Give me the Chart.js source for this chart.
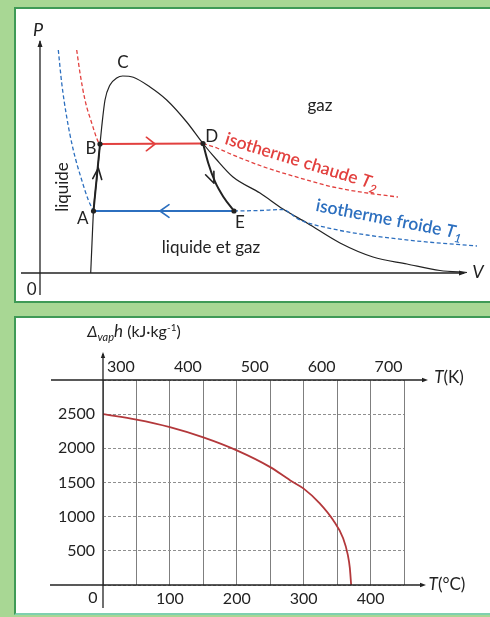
<!DOCTYPE html>
<html><head><meta charset="utf-8">
<script src="https://cdn.jsdelivr.net/npm/chart.js@4/dist/chart.umd.min.js"></script>
<style>
html,body{margin:0;padding:0;}
body{width:490px;height:617px;background:#a8d794;position:relative;overflow:hidden;font-family:Lato,sans-serif;}
.panel{position:absolute;background:#fff;border:2px solid #3f9a56;border-right:none;box-sizing:border-box;}
#p1{left:14px;top:7px;width:480px;height:296px;}
#p2{left:14px;top:316px;width:480px;height:299px;border-bottom-color:#7fd0b0;}
canvas{position:absolute;left:0;}
#c1{top:0;width:490px;height:300px;}
#c2{top:300px;width:490px;height:317px;}
</style></head><body>
<div class="panel" id="p1"></div><div class="panel" id="p2"></div>
<canvas id="c1" width="490" height="300"></canvas>
<canvas id="c2" width="490" height="317"></canvas>
<script>
// ===== Top diagram (Clapeyron P-V), arbitrary units =====
const DOME_V = [5.07, 5.2, 5.35, 5.7, 6.0, 6.17, 6.5, 7.0, 7.67, 8.27, 9.33, 11.0, 12.67, 14.67, 16.3, 17.6, 19.3, 22.0, 24.3, 26.7, 30.0, 33.3, 36.7, 40.0, 42.7];
const DOME_P = [0, 3.0, 6.2, 9.6, 12.9, 14.6, 17.3, 18.8, 19.5, 19.7, 19.57, 18.6, 17.3, 15.1, 12.95, 11.4, 9.6, 8.0, 6.4, 5.0, 3.0, 1.6, 0.9, 0.25, 0.05];
const HOT_LEFT_V = [3.67, 4.0, 4.5, 5.17, 5.83, 6.0];
const HOT_LEFT_P = [22.3, 20.0, 17.3, 15.0, 13.1, 12.9];
const HOT_RIGHT_V = [16.3, 17.7, 19.3, 22.7, 26.0, 29.3, 32.7, 35.8];
const HOT_RIGHT_P = [12.95, 12.5, 11.8, 10.5, 9.5, 8.6, 8.0, 7.6];
const COLD_LEFT_V = [1.83, 2.17, 2.67, 3.33, 4.17, 4.83, 5.2, 5.35];
const COLD_LEFT_P = [22.3, 19.0, 15.6, 12.3, 9.3, 7.3, 6.5, 6.2];
const COLD_RIGHT_V = [19.4, 22.0, 24.2, 26.0, 29.3, 32.7, 37.7, 43.7];
const COLD_RIGHT_P = [6.2, 6.25, 6.35, 5.3, 4.4, 3.8, 3.2, 2.7];
const PATH_AB_V = [5.35, 6.0];
const PATH_AB_P = [6.2, 12.9];
const PATH_BD_V = [6.0, 16.3];
const PATH_BD_P = [12.9, 12.95];
const PATH_DE_V = [16.3, 16.83, 17.5, 18.33, 19.4];
const PATH_DE_P = [12.95, 10.97, 9.13, 7.63, 6.2];
const PATH_EA_V = [19.4, 5.35];
const PATH_EA_P = [6.2, 6.2];
const STATE_NAMES = ['A', 'B', 'D', 'E'];
const STATE_V = [5.35, 6.0, 16.3, 19.4];
const STATE_P = [6.2, 12.9, 12.95, 6.2];

// ===== Bottom chart: enthalpy of vaporisation of water =====
const T_CELSIUS = [0, 50, 100, 150, 200, 250, 280, 300, 324, 344, 359, 366, 369, 371];
const DVAP_H = [2500, 2420, 2310, 2160, 1970, 1725, 1530, 1410, 1195, 950, 685, 440, 250, 0];
const Y_TICKS = [500, 1000, 1500, 2000, 2500];
const C_TICKS = [100, 200, 300, 400];
const K_TICKS = [300, 400, 500, 600, 700];

const zip = (xs, ys) => xs.map((x, i) => ({x, y: ys[i]}));
const INK = '#222';
const RED = '#e2403e';
const BLUE = '#2c6fbf';
const FONT = 'Lato, "Open Sans", sans-serif';

function arrowHead(ctx, x, y, ang, len, half) {
  ctx.save();
  ctx.translate(x, y); ctx.rotate(ang);
  ctx.beginPath();
  ctx.moveTo(0, 0); ctx.lineTo(-len, -half); ctx.lineTo(-len, half); ctx.closePath();
  ctx.fill();
  ctx.restore();
}
function chevron(ctx, x, y, ang, len, halfDeg, color, w) {
  const a = halfDeg * Math.PI / 180;
  ctx.save();
  ctx.strokeStyle = color; ctx.lineWidth = w; ctx.lineCap = 'round'; ctx.lineJoin = 'round';
  ctx.translate(x, y); ctx.rotate(ang);
  ctx.beginPath();
  ctx.moveTo(-len * Math.cos(a), -len * Math.sin(a));
  ctx.lineTo(0, 0);
  ctx.lineTo(-len * Math.cos(a), len * Math.sin(a));
  ctx.stroke();
  ctx.restore();
}
// rich text: parts = [{t, f, dy}] drawn left to right, centred on (x,y)
function rich(ctx, x, y, parts, color, ang) {
  ctx.save();
  ctx.fillStyle = color;
  ctx.textBaseline = 'alphabetic';
  ctx.textAlign = 'left';
  let w = 0;
  parts.forEach(p => { ctx.font = p.f; w += ctx.measureText(p.t).width; });
  ctx.translate(x, y);
  if (ang) ctx.rotate(ang);
  let cx = -w / 2;
  parts.forEach(p => { ctx.font = p.f; ctx.fillText(p.t, cx, p.dy || 0); cx += ctx.measureText(p.t).width; });
  ctx.restore();
}

// ---------- top chart ----------
const topPlugin = {
  id: 'topDeco',
  afterDatasetsDraw(chart) {
    const ctx = chart.ctx, xs = chart.scales.x, ys = chart.scales.y;
    const X = v => xs.getPixelForValue(v), Y = p => ys.getPixelForValue(p);
    ctx.save();
    ctx.strokeStyle = INK; ctx.fillStyle = INK; ctx.lineWidth = 1.3;
    // P axis
    ctx.beginPath(); ctx.moveTo(X(0), Y(-2.2)); ctx.lineTo(X(0), Y(23.2)); ctx.stroke();
    arrowHead(ctx, X(0), Y(23.3), -Math.PI / 2, 7, 2.5);
    // V axis
    ctx.beginPath(); ctx.moveTo(X(-1.9), Y(0)); ctx.lineTo(X(42.4), Y(0)); ctx.stroke();
    arrowHead(ctx, X(42.6), Y(0), 0, 7, 2.5);
    // path arrows
    const dirAng = (v0, p0, v1, p1) => Math.atan2(Y(p1) - Y(p0), X(v1) - X(v0));
    chevron(ctx, X(11.5), Y(12.9), 0, 11, 38, RED, 1.6);
    chevron(ctx, X(12.0), Y(6.2), Math.PI, 11, 35, BLUE, 1.6);
    chevron(ctx, X(5.83), Y(10.5), dirAng(5.35, 6.2, 6.0, 12.9), 12, 22, INK, 1.6);
    chevron(ctx, X(17.4), Y(8.97), dirAng(16.83, 10.97, 17.9, 8.4), 12, 22, INK, 1.6);
    // text labels
    ctx.textAlign = 'center'; ctx.textBaseline = 'middle';
    ctx.fillStyle = INK;
    ctx.font = 'italic 18px ' + FONT; ctx.fillText('P', X(-0.2), Y(24.3));
    ctx.fillText('V', X(43.8), Y(0.1));
    ctx.font = '17px ' + FONT;
    ctx.fillText('0', X(-0.83), Y(-1.7));
    ctx.fillText('C', X(8.3), Y(21.0));
    ctx.fillText('B', X(5.1), Y(12.4));
    ctx.fillText('A', X(4.27), Y(5.45));
    ctx.fillText('D', X(17.17), Y(13.63));
    ctx.fillText('E', X(20.0), Y(5.0));
    ctx.fillText('gaz', X(28.0), Y(16.7));
    ctx.fillText('liquide et gaz', X(17.1), Y(2.5));
    ctx.save(); ctx.translate(X(2.3), Y(8.6)); ctx.rotate(-Math.PI / 2); ctx.fillText('liquide', 0, 0); ctx.restore();
    rich(ctx, X(26.0), Y(10.6), [
      {t: 'isotherme chaude ', f: '600 17.5px ' + FONT},
      {t: 'T', f: 'italic 600 17.5px ' + FONT},
      {t: '2', f: 'italic 600 12px ' + FONT, dy: 4}], RED, 17 * Math.PI / 180);
    rich(ctx, X(34.8), Y(4.8), [
      {t: 'isotherme froide ', f: '600 17.5px ' + FONT},
      {t: 'T', f: 'italic 600 17.5px ' + FONT},
      {t: '1', f: 'italic 600 12px ' + FONT, dy: 4}], BLUE, 11 * Math.PI / 180);
    ctx.restore();
  }
};
const dashLine = (data, color) => ({data, showLine: true, borderColor: color, borderWidth: 1.3, borderDash: [4, 2.5], pointRadius: 0, cubicInterpolationMode: 'monotone', fill: false});
const solidLine = (data, color, w) => ({data, showLine: true, borderColor: color, borderWidth: w, pointRadius: 0, cubicInterpolationMode: 'monotone', fill: false});

new Chart(document.getElementById('c1'), {
  type: 'scatter',
  data: {datasets: [
    {data: zip(STATE_V, STATE_P), showLine: false, pointRadius: 2.6, pointBackgroundColor: INK, pointBorderWidth: 0},
    solidLine(zip(PATH_AB_V, PATH_AB_P), INK, 2),
    solidLine(zip(PATH_DE_V, PATH_DE_P), INK, 2),
    solidLine(zip(PATH_BD_V, PATH_BD_P), RED, 1.8),
    solidLine(zip(PATH_EA_V, PATH_EA_P), BLUE, 1.8),
    dashLine(zip(HOT_LEFT_V, HOT_LEFT_P), RED),
    dashLine(zip(HOT_RIGHT_V, HOT_RIGHT_P), RED),
    dashLine(zip(COLD_LEFT_V, COLD_LEFT_P), BLUE),
    dashLine(zip(COLD_RIGHT_V, COLD_RIGHT_P), BLUE),
    solidLine(zip(DOME_V, DOME_P), INK, 1.2)
  ]},
  options: {
    responsive: false, animation: false, devicePixelRatio: 1,
    layout: {padding: {left: 20, right: 10, top: 23, bottom: 7}},
    plugins: {legend: {display: false}, tooltip: {enabled: false}},
    scales: {
      x: {type: 'linear', min: -2, max: 44, display: false},
      y: {type: 'linear', min: -2, max: 25, display: false}
    },
    clip: false
  },
  plugins: [topPlugin]
});

// ---------- bottom chart ----------
const botPlugin = {
  id: 'botDeco',
  afterDraw(chart) {
    const ctx = chart.ctx, xs = chart.scales.x, ys = chart.scales.y, a = chart.chartArea;
    const x0 = xs.getPixelForValue(0), yTop = ys.getPixelForValue(3000), yBot = ys.getPixelForValue(0);
    ctx.save();
    ctx.strokeStyle = INK; ctx.fillStyle = INK; ctx.lineWidth = 1.3;
    // vertical axis
    ctx.beginPath(); ctx.moveTo(x0, yBot + 23); ctx.lineTo(x0, yTop - 26); ctx.stroke();
    arrowHead(ctx, x0, yTop - 28, -Math.PI / 2, 6, 2.2);
    // Kelvin axis
    ctx.beginPath(); ctx.moveTo(a.left - 52, yTop); ctx.lineTo(a.right + 21, yTop); ctx.stroke();
    arrowHead(ctx, a.right + 24, yTop, 0, 6, 2.2);
    // Celsius axis
    ctx.beginPath(); ctx.moveTo(a.left - 53, yBot); ctx.lineTo(a.right + 19, yBot); ctx.stroke();
    arrowHead(ctx, a.right + 22, yBot, 0, 6, 2.2);
    // labels
    ctx.textAlign = 'center'; ctx.textBaseline = 'middle';
    ctx.font = '16px ' + FONT; ctx.fillStyle = INK;
    ctx.fillText('0', x0 - 10, yBot + 13);
    rich(ctx, a.right + 45, yTop + 3, [
      {t: 'T', f: 'italic 17px ' + FONT}, {t: '(K)', f: '17px ' + FONT}], INK);
    rich(ctx, a.right + 43, yBot + 5, [
      {t: 'T', f: 'italic 17px ' + FONT}, {t: '(°C)', f: '17px ' + FONT}], INK);
    rich(ctx, x0 + 31, yTop - 43, [
      {t: 'Δ', f: 'italic 16px ' + FONT},
      {t: 'vap', f: 'italic 11px ' + FONT, dy: 4},
      {t: 'h', f: 'italic 17px ' + FONT},
      {t: ' (kJ·kg', f: '16px ' + FONT},
      {t: '-1', f: '10px ' + FONT, dy: -6},
      {t: ')', f: '16px ' + FONT}], INK);
    ctx.restore();
  }
};

new Chart(document.getElementById('c2'), {
  type: 'scatter',
  data: {datasets: [{
    data: zip(T_CELSIUS, DVAP_H), showLine: true, borderColor: '#b3383b', borderWidth: 1.8,
    pointRadius: 0, cubicInterpolationMode: 'monotone', fill: false
  }]},
  options: {
    responsive: false, animation: false, devicePixelRatio: 1,
    layout: {padding: {left: 53, right: 86, top: 40, bottom: 7}},
    plugins: {legend: {display: false}, tooltip: {enabled: false}},
    scales: {
      x: {
        type: 'linear', position: 'bottom', min: 0, max: 450,
        afterFit: s => { s.height = 25; },
        afterBuildTicks: s => { s.ticks = []; for (let v = 0; v <= 450; v += 50) s.ticks.push({value: v}); },
        ticks: {autoSkip: false, maxRotation: 0, padding: 4, color: INK, font: {family: FONT, size: 16},
          callback: v => C_TICKS.includes(v) ? String(v) : ''},
        grid: {color: '#7f7f7f', lineWidth: 1, drawTicks: false},
        border: {display: false}
      },
      x2: {
        type: 'linear', position: 'top', min: 273.15, max: 723.15,
        afterFit: s => { s.height = 40; },
        afterBuildTicks: s => { s.ticks = K_TICKS.map(v => ({value: v})); },
        ticks: {autoSkip: false, maxRotation: 0, padding: 4, color: INK, font: {family: FONT, size: 16}},
        grid: {display: false, drawTicks: false},
        border: {display: false}
      },
      y: {
        type: 'linear', min: 0, max: 3000,
        afterFit: s => { s.width = 50; },
        afterBuildTicks: s => { s.ticks = []; for (let v = 0; v <= 3000; v += 500) s.ticks.push({value: v}); },
        ticks: {autoSkip: false, padding: 8, color: INK, font: {family: FONT, size: 16},
          callback: v => Y_TICKS.includes(v) ? String(v) : ''},
        grid: {color: '#8f8f8f', lineWidth: 1, drawTicks: false},
        border: {display: false, dash: [3, 2]}
      }
    }
  },
  plugins: [botPlugin]
});
</script>
</body></html>
